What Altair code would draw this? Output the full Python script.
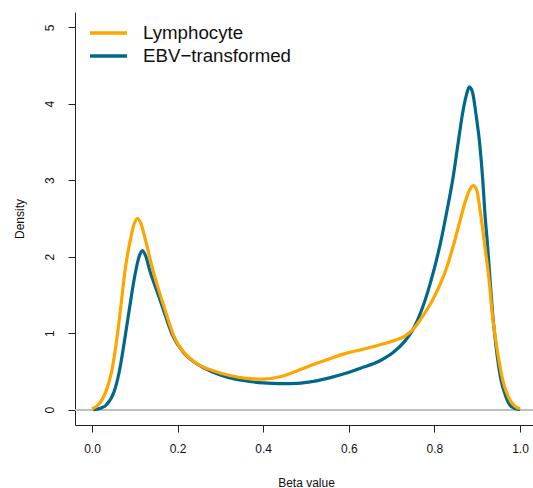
import altair as alt
import pandas as pd

# ---- data ----
series_names = ["Lymphocyte", "EBV\u2212transformed"]
series_colors = ["#FFA500", "#00688B"]

lymph_beta = [0.000, 0.0148, 0.0327, 0.046, 0.0584, 0.0678, 0.077, 0.0903, 0.098, 0.106,
              0.114, 0.124, 0.143, 0.155, 0.167, 0.190, 0.210, 0.229, 0.252, 0.283,
              0.320, 0.361, 0.400, 0.439, 0.480, 0.517, 0.557, 0.595, 0.626, 0.673,
              0.704, 0.730, 0.750, 0.770, 0.785, 0.800, 0.815, 0.830, 0.845, 0.858,
              0.870, 0.881, 0.891, 0.899, 0.9065, 0.918, 0.9276, 0.935, 0.9455, 0.9595,
              0.9727, 0.992, 1.000]
lymph_dens = [0.01, 0.065, 0.24, 0.50, 0.94, 1.37, 1.81, 2.24, 2.42, 2.50,
              2.44, 2.24, 1.81, 1.58, 1.37, 0.98, 0.78, 0.67, 0.58, 0.51,
              0.45, 0.41, 0.40, 0.43, 0.51, 0.59, 0.67, 0.74, 0.78, 0.85,
              0.90, 0.96, 1.05, 1.20, 1.33, 1.48, 1.66, 1.88, 2.16, 2.43,
              2.68, 2.86, 2.93, 2.87, 2.62, 2.13, 1.70, 1.26, 0.83, 0.39,
              0.17, 0.03, 0.015]

ebv_beta = [0.003, 0.020, 0.034, 0.052, 0.0638, 0.077, 0.0888, 0.102, 0.110, 0.118,
            0.126, 0.1355, 0.150, 0.163, 0.1877, 0.215, 0.237, 0.260, 0.283, 0.320,
            0.361, 0.400, 0.439, 0.480, 0.517, 0.557, 0.595, 0.626, 0.673, 0.704,
            0.730, 0.750, 0.770, 0.785, 0.800, 0.815, 0.830, 0.844, 0.855, 0.866,
            0.875, 0.8816, 0.889, 0.897, 0.9065, 0.913, 0.918, 0.9245, 0.930, 0.936,
            0.944, 0.9556, 0.967, 0.980, 1.000]
ebv_dens = [0.00, 0.02, 0.065, 0.24, 0.50, 0.94, 1.37, 1.81, 2.00, 2.08,
            2.00, 1.81, 1.58, 1.37, 0.98, 0.74, 0.63, 0.55, 0.49, 0.42,
            0.375, 0.35, 0.34, 0.345, 0.37, 0.42, 0.48, 0.54, 0.64, 0.75,
            0.89, 1.05, 1.30, 1.55, 1.85, 2.20, 2.62, 3.05, 3.47, 3.88,
            4.12, 4.22, 4.15, 3.87, 3.44, 3.00, 2.57, 2.13, 1.70, 1.26,
            0.83, 0.39, 0.17, 0.04, 0.00]

x_ticks = [0.0, 0.2, 0.4, 0.6, 0.8, 1.0]
y_ticks = [0, 1, 2, 3, 4, 5]

df = pd.concat([
    pd.DataFrame({"beta": lymph_beta, "density": lymph_dens, "series": series_names[0]}),
    pd.DataFrame({"beta": ebv_beta, "density": ebv_dens, "series": series_names[1]}),
], ignore_index=True)

FONT = "Liberation Sans"
AXIS_COLOR = "#222222"
TEXT_COLOR = "#111111"

xscale = alt.Scale(domain=[-0.03972, 1.03037], nice=False, zero=False)
yscale = alt.Scale(domain=[-0.2, 5.2], nice=False, zero=False)

xaxis = alt.Axis(values=x_ticks, format=".1f", title="Beta value", grid=False,
                 tickSize=7, tickColor=AXIS_COLOR, domainColor=AXIS_COLOR,
                 labelPadding=11, labelFontSize=12, labelFont=FONT, labelColor=TEXT_COLOR,
                 titleFont=FONT, titleFontSize=12, titleFontWeight="normal", titleColor=TEXT_COLOR,
                 titleBaseline="alphabetic", titleX=231, titleY=61, labelFlush=False)
yaxis = alt.Axis(values=y_ticks, format="d", title="Density", grid=False,
                 tickSize=7, tickColor=AXIS_COLOR, domainColor=AXIS_COLOR,
                 labelAngle=270, labelAlign="center", labelBaseline="middle",
                 labelPadding=19, labelFontSize=12, labelFont=FONT, labelColor=TEXT_COLOR,
                 titleFont=FONT, titleFontSize=12, titleFontWeight="normal", titleColor=TEXT_COLOR,
                 titleAngle=270, titleBaseline="alphabetic", titleAlign="center",
                 titleX=-52, titleY=206.5, labelFlush=False)

color_enc = alt.Color("series:N",
                      scale=alt.Scale(domain=series_names, range=series_colors),
                      legend=alt.Legend(title=None, orient="none", legendX=22.5, legendY=10,
                                        symbolType="M-2,0L2,0", symbolSize=342.25,
                                        symbolStrokeWidth=3.5, labelFontSize=18.7,
                                        labelFont=FONT, labelColor=TEXT_COLOR,
                                        rowPadding=2, padding=0, labelOffset=23.5,
                                        labelLimit=300))

base = alt.Chart(df)

zero_line = base.mark_rule(color="#BEBEBE", strokeWidth=1).encode(
    y=alt.datum(0, scale=yscale, axis=yaxis)
)

ebv_line = base.transform_filter(alt.datum.series == series_names[1]).mark_line(
    strokeWidth=3.2, interpolate="monotone"
).encode(
    x=alt.X("beta:Q", scale=xscale, axis=xaxis),
    y=alt.Y("density:Q", scale=yscale, axis=yaxis),
    color=color_enc,
)

lymph_line = base.transform_filter(alt.datum.series == series_names[0]).mark_line(
    strokeWidth=3.2, interpolate="monotone"
).encode(
    x=alt.X("beta:Q", scale=xscale, axis=xaxis),
    y=alt.Y("density:Q", scale=yscale, axis=yaxis),
    color=color_enc,
)

chart = alt.layer(zero_line, ebv_line, lymph_line).properties(
    width=458, height=413,
    autosize=alt.AutoSizeParams(type="none"),
    padding={"left": 75, "top": 12, "right": 0, "bottom": 63},
    background="white",
).configure_view(stroke=None)

chart.save("out.html", embed_options={"renderer": "svg", "actions": False})
